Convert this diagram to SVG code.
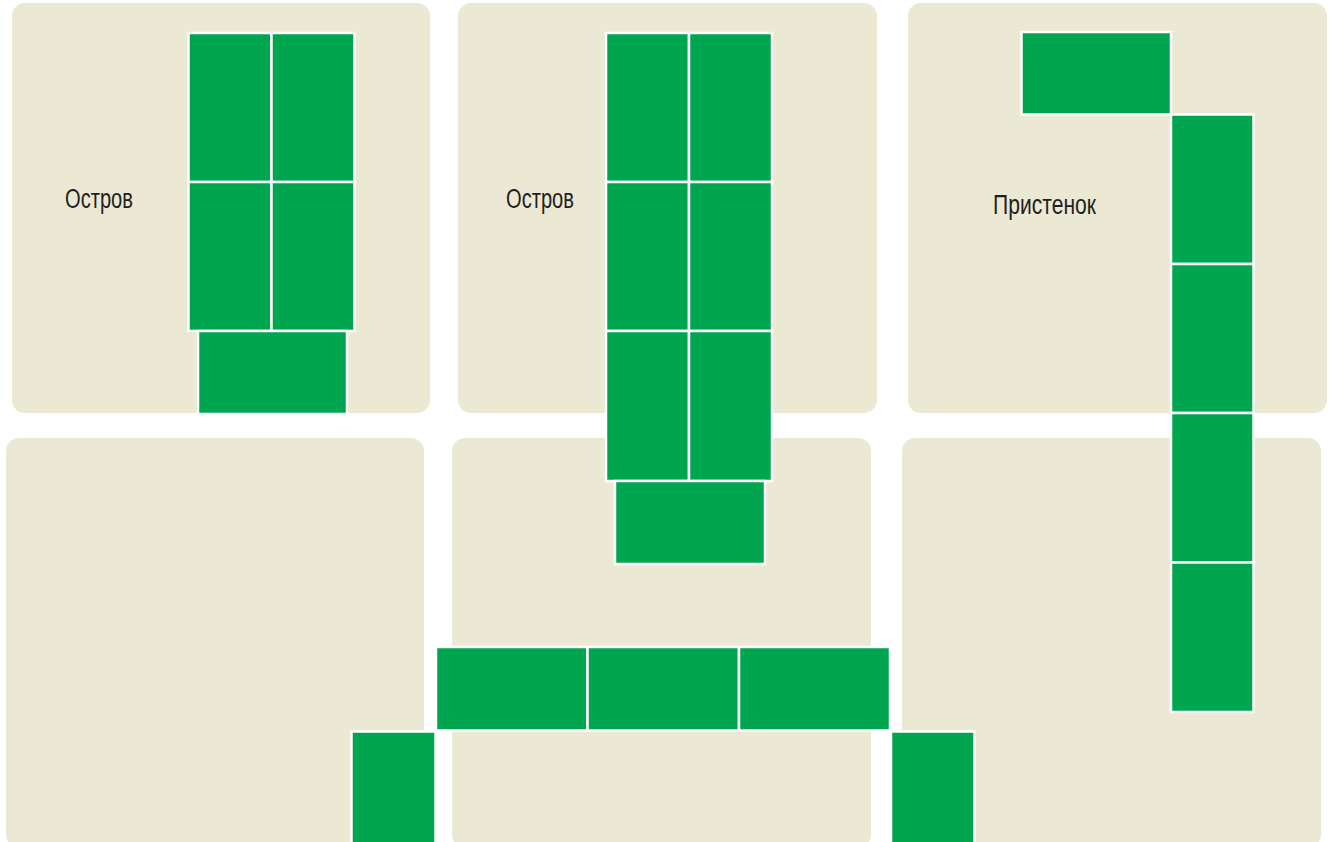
<svg xmlns="http://www.w3.org/2000/svg" width="1338" height="842" viewBox="0 0 1338 842">
<style>
.panel{fill:#EBE8D4}
.tile{fill:#00A54F;stroke:#FFFFFF;stroke-width:2.5}
.lbl{font-family:"Liberation Sans","Noto Sans",sans-serif;font-size:27px;fill:#231F20}
</style>
<rect width="1338" height="842" fill="#FFFFFF"/>
<g id="panels">
<rect id="panel-1" class="panel" x="12" y="3" width="418" height="410" rx="13"/>
<rect id="panel-2" class="panel" x="458" y="3" width="419" height="410" rx="13"/>
<rect id="panel-3" class="panel" x="908" y="3" width="419" height="410" rx="13"/>
<rect id="panel-4" class="panel" x="6" y="438" width="418" height="410" rx="13"/>
<rect id="panel-5" class="panel" x="452" y="438" width="419" height="410" rx="13"/>
<rect id="panel-6" class="panel" x="902" y="438" width="419" height="410" rx="13"/>
</g>
<g id="layout-1">
<rect class="tile" x="188.5" y="33" width="83" height="149"/>
<rect class="tile" x="271.5" y="33" width="83" height="149"/>
<rect class="tile" x="188.5" y="182" width="83" height="149"/>
<rect class="tile" x="271.5" y="182" width="83" height="149"/>
<rect class="tile" x="198" y="331" width="149" height="83"/>
<text class="lbl" x="65" y="208" textLength="68" lengthAdjust="spacingAndGlyphs">Остров</text>
</g>
<g id="layout-2">
<rect class="tile" x="606" y="33" width="83" height="149"/>
<rect class="tile" x="689" y="33" width="83" height="149"/>
<rect class="tile" x="606" y="182" width="83" height="149"/>
<rect class="tile" x="689" y="182" width="83" height="149"/>
<rect class="tile" x="606" y="331" width="83" height="150"/>
<rect class="tile" x="689" y="331" width="83" height="150"/>
<rect class="tile" x="615" y="481" width="150" height="83"/>
<text class="lbl" x="506" y="208" textLength="68" lengthAdjust="spacingAndGlyphs">Остров</text>
</g>
<g id="layout-3">
<rect class="tile" x="1021.5" y="32" width="149.5" height="82.5"/>
<rect class="tile" x="1171" y="114.5" width="82.5" height="149.5"/>
<rect class="tile" x="1171" y="264" width="82.5" height="149"/>
<rect class="tile" x="1171" y="413" width="82.5" height="149.5"/>
<rect class="tile" x="1171" y="562.5" width="82.5" height="149.5"/>
<text class="lbl" x="993" y="214" textLength="103" lengthAdjust="spacingAndGlyphs">Пристенок</text>
</g>
<g id="layout-4">
<rect class="tile" x="436" y="647" width="151.5" height="83.5"/>
<rect class="tile" x="587.5" y="647" width="151.5" height="83.5"/>
<rect class="tile" x="739" y="647" width="151" height="83.5"/>
<rect class="tile" x="351.5" y="731.5" width="84" height="130"/>
<rect class="tile" x="891" y="731.5" width="83.5" height="130"/>
</g>
</svg>
